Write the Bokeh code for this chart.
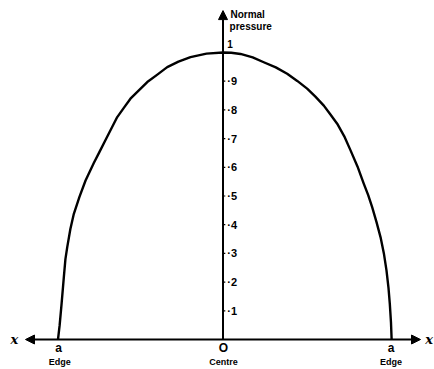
from bokeh.plotting import figure
from bokeh.models import Range1d, Arrow, NormalHead, ColumnDataSource
from bokeh.core.properties import value
from bokeh.embed import file_html
from bokeh.resources import INLINE

# Curve (x in units of the half-width a, normal pressure)
x_vals = [-1.0, -0.99, -0.979, -0.965, -0.955, -0.944, -0.925, -0.904, -0.87, -0.833, -0.783,
          -0.75, -0.712, -0.641, -0.6, -0.561, -0.51, -0.459, -0.4, -0.338, -0.27, -0.197, -0.1,
          0.0, 0.05, 0.106, 0.18, 0.247, 0.32, 0.389, 0.45, 0.510, 0.56, 0.611, 0.65, 0.692,
          0.735, 0.773, 0.815, 0.853, 0.88, 0.904, 0.93, 0.955, 0.975, 0.991, 1.003, 1.011,
          1.018, 1.022]
p_vals = [0.0, 0.05, 0.12, 0.215, 0.28, 0.322, 0.385, 0.438, 0.497, 0.554, 0.615,
          0.652, 0.695, 0.775, 0.808, 0.839, 0.868, 0.897, 0.922, 0.949, 0.968, 0.984, 0.996,
          1.0, 0.999, 0.995, 0.983, 0.966, 0.948, 0.926, 0.901, 0.874, 0.846, 0.815, 0.785, 0.752,
          0.708, 0.659, 0.603, 0.543, 0.503, 0.461, 0.41, 0.356, 0.30, 0.240, 0.18, 0.124,
          0.06, 0.0]

tick_vals = [0.1, 0.2, 0.3, 0.4, 0.5, 0.6, 0.7, 0.8, 0.9]
tick_labels = ["·1", "·2", "·3", "·4", "·5", "·6", "·7", "·8", "·9"]

W, H = 434, 369
CX, SX = 222.5, 165.0   # page px of centre, px per unit a
CY, SY = 339.0, 287.0   # page px of zero pressure, px per unit pressure

p = figure(width=W, height=H, output_backend="svg", toolbar_location=None,
           x_range=Range1d(-CX / SX, (W - CX) / SX), y_range=Range1d(-(H - CY) / SY, CY / SY),
           min_border=0, outline_line_color=None)
p.xaxis.visible = False
p.yaxis.visible = False
p.grid.visible = False

FONT = value("Liberation Sans")

# curve
p.line(x_vals, p_vals, line_color="black", line_width=2.4, line_join="round")

# axes with arrows
head = dict(size=9, fill_color="black", line_color="black")
p.add_layout(Arrow(start=NormalHead(**head), end=NormalHead(**head),
                   x_start=-1.197, y_start=0, x_end=1.197, y_end=0,
                   line_color="black", line_width=2))
p.add_layout(Arrow(end=NormalHead(**head),
                   x_start=0, y_start=0, x_end=0, y_end=1.146,
                   line_color="black", line_width=2))

# y ticks
p.segment(x0=[0.0] * len(tick_vals), y0=tick_vals, x1=[0.014] * len(tick_vals), y1=tick_vals,
          line_color="black", line_width=1.2)
src = ColumnDataSource(dict(x=[0.026] * len(tick_vals), y=tick_vals, t=tick_labels))
p.text(x="x", y="y", text="t", source=src, text_font=FONT, text_font_size="11px",
       text_font_style="bold", text_baseline="middle", text_align="left", text_color="black")
p.text(x=[0.026], y=[1.03], text=["1"], text_font=FONT, text_font_size="10px",
       text_font_style="bold", text_baseline="middle", text_align="left", text_color="black")

# axis title
p.text(x=[0.045, 0.04], y=[1.134, 1.092], text=["Normal", "pressure"], text_font=FONT,
       text_font_size="10px", text_font_style="bold", text_baseline="middle", text_align="left",
       text_color="black")

# x labels
p.text(x=[-0.996, 0.003, 1.018], y=[-0.029, -0.029, -0.029], text=["a", "O", "a"], text_font=FONT,
       text_font_size="12px", text_font_style="bold", text_baseline="middle", text_align="center",
       text_color="black")
p.text(x=[-0.99, 0.003, 1.018], y=[-0.080, -0.080, -0.080], text=["Edge", "Centre", "Edge"],
       text_font=FONT, text_font_size="9px", text_font_style="bold", text_baseline="middle",
       text_align="center", text_color="black")
p.text(x=[-1.264, 1.25], y=[0.0, 0.0], text=["x", "x"], text_font=value("DejaVu Serif"),
       text_font_size="13px", text_font_style="bold italic", text_baseline="middle",
       text_align="center", text_color="black")

open("out.html", "w").write(file_html(p, INLINE))
